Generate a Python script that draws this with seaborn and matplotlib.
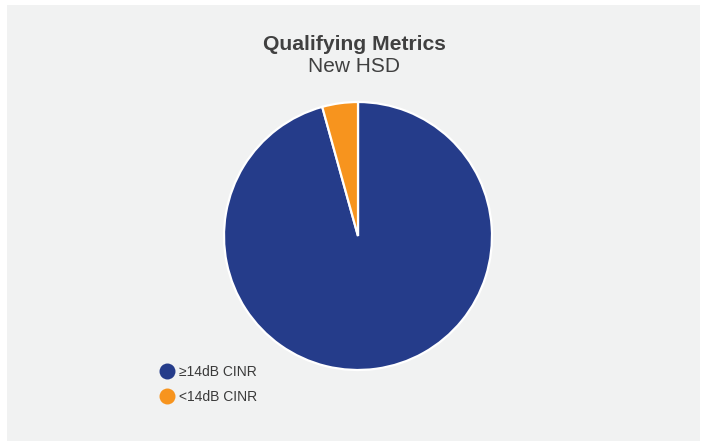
import matplotlib
matplotlib.use("Agg")
import matplotlib.pyplot as plt
from matplotlib.lines import Line2D
from matplotlib.patches import Rectangle
import seaborn as sns

# 数据
labels = ["≥14dB CINR", "<14dB CINR"]
shares = [95.7, 4.3]
colors = ["#253c8a", "#f7941e"]

sns.set_theme(style="white")
plt.rcParams['font.family'] = ['Liberation Sans', 'DejaVu Sans']

fig = plt.figure(figsize=(7.08, 4.41), dpi=100)
fig.patch.set_facecolor("white")

# 灰色背景面板
fig.patches.append(Rectangle((7 / 708, 0), 693 / 708, 436 / 441,
                             transform=fig.transFigure, facecolor="#f1f2f2",
                             edgecolor="none", zorder=-5))

ax = fig.add_axes([224 / 708, (441 - 370) / 441, 268 / 708, 268 / 441])
ax.set_zorder(2)
ax.pie(shares, colors=colors, startangle=90, counterclock=False,
       wedgeprops=dict(edgecolor="white", linewidth=1.6))
ax.set_xlim(-1.0, 1.0)
ax.set_ylim(-1.0, 1.0)
ax.set_aspect("equal")
ax.axis("off")

fig.text(0.5, (441 - 44) / 441, "Qualifying Metrics", ha="center", va="center",
         fontsize=15.2, fontweight="bold", color="#404040")
fig.text(0.5, (441 - 67) / 441, "New HSD", ha="center", va="center",
         fontsize=15, color="#404040")

handles = [Line2D([], [], marker="o", linestyle="none", markersize=11.5,
                  markerfacecolor=c, markeredgecolor="none") for c in colors]
fig.legend(handles, labels, loc="upper left",
           bbox_to_anchor=(148 / 708, (441 - 359) / 441),
           frameon=False, fontsize=10, handletextpad=-0.2,
           labelspacing=0.8, labelcolor="#3a3a3a", borderaxespad=0)

fig.savefig("out.png", dpi=100)
